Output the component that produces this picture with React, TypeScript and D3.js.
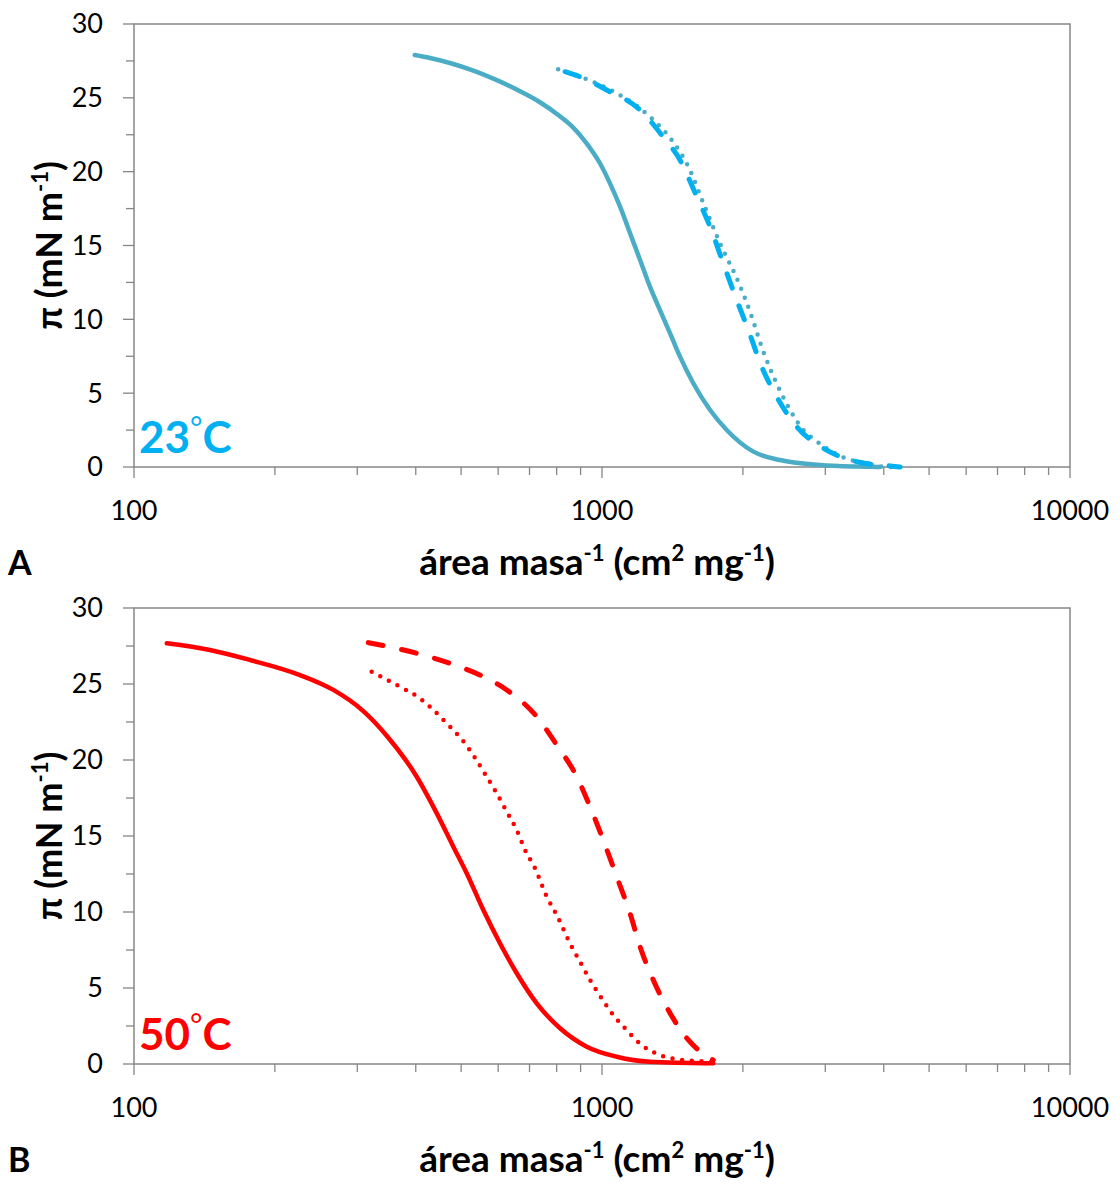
import React from "react";
import * as d3 from "d3";

// ---------- data (area per mass in cm2/mg, surface pressure in mN/m) ----------
// Panel A (23 °C)
const areaA_solid = [398, 429, 473, 531, 596, 668, 737, 813, 867, 927, 990, 1040, 1093, 1148, 1206, 1266, 1330, 1398, 1468, 1567, 1702, 1847, 2106, 2401, 2923, 3502, 3926];
const piA_solid = [27.9, 27.7, 27.36, 26.85, 26.2, 25.45, 24.7, 23.75, 23.0, 21.92, 20.57, 19.21, 17.63, 15.83, 14.02, 12.21, 10.63, 9.05, 7.47, 5.67, 3.86, 2.51, 1.04, 0.47, 0.14, 0.03, 0.0];

const areaA_dash = [834, 897, 1023, 1206, 1350, 1468, 1594, 1702, 1816, 1940, 2054, 2194, 2362, 2606, 2971, 3502, 4126, 4335];
const piA_dash = [26.77, 26.43, 25.53, 24.18, 22.37, 20.79, 18.31, 16.27, 13.79, 11.31, 9.28, 6.79, 4.76, 2.73, 1.27, 0.36, 0.07, 0.0];

const areaA_dot = [806, 935, 1075, 1266, 1409, 1529, 1647, 1787, 1955, 2071, 2212, 2343, 2501, 2692, 2851, 3253, 3738, 3991, 4335];
const piA_dot = [26.93, 26.21, 25.31, 23.72, 22.14, 20.34, 17.86, 15.15, 12.55, 10.52, 7.81, 5.89, 4.08, 2.51, 1.83, 0.7, 0.2, 0.02, 0.0];

// Panel B (50 °C)
const areaB_solid = [117.5, 145.3, 177, 226.3, 266.6, 309, 346.7, 401.9, 443.6, 481.2, 513.9, 557.8, 605.3, 657.4, 725.3, 813.5, 927.5, 1075, 1266, 1729];
const piB_solid = [27.68, 27.24, 26.58, 25.59, 24.61, 23.22, 21.6, 18.9, 16.49, 14.3, 12.55, 10.13, 7.94, 5.97, 3.99, 2.35, 1.14, 0.48, 0.15, 0.05];

const areaB_dot = [322, 370.2, 405.1, 436.2, 469.5, 502.8, 533.5, 564.3, 595.7, 625.8, 657.4, 684.8, 719.2, 761.9, 800.4, 854.3, 897.4, 942.7, 998.5, 1057, 1120, 1216, 1330, 1444, 1729];
const piB_dot = [25.81, 24.82, 24.13, 23.29, 22.3, 21.32, 20.22, 19.01, 17.81, 16.6, 15.39, 14.08, 12.88, 11.01, 9.8, 7.94, 6.73, 5.53, 4.32, 3.22, 2.35, 1.25, 0.59, 0.31, 0.15];

const areaB_dash = [316.7, 401.9, 473.4, 557.8, 625.8, 725.3, 800.4, 883.3, 942.7, 1006, 1075, 1148, 1206, 1287, 1398, 1529, 1729];
const piB_dash = [27.72, 27.02, 26.36, 25.48, 24.61, 22.85, 20.99, 18.9, 16.93, 14.74, 12.32, 9.91, 7.72, 5.53, 3.34, 1.58, 0.26];

// ticks
const xMajorTicks = [100, 1000, 10000];
const xMinorTicks = [200, 300, 400, 500, 600, 700, 800, 900, 2000, 3000, 4000, 5000, 6000, 7000, 8000, 9000];
const yMajorTicks = [0, 5, 10, 15, 20, 25, 30];
const yMinorTicks = [2.5, 7.5, 12.5, 17.5, 22.5, 27.5];

const BLUE_SOLID = "#4BACC6";
const BLUE_DASH = "#00B0F0";
const RED = "#FF0000";
const AXIS = "#868686";
const FONT = "Lato, 'Open Sans', sans-serif";

type Series = { x: number[]; y: number[]; color: string; dash?: string; width: number };

function Panel({ top, bottom, series, tempLabel, tempColor, panelLetter }: {
  top: number; bottom: number; series: Series[]; tempLabel: string; tempColor: string; panelLetter: string;
}) {
  const left = 134, right = 1070;
  const x = d3.scaleLog().domain([100, 10000]).range([left, right]);
  const y = d3.scaleLinear().domain([0, 30]).range([bottom, top]);
  const line = d3.line<[number, number]>().x(d => x(d[0])).y(d => y(d[1])).curve(d3.curveMonotoneX);
  const midY = (top + bottom) / 2;
  return (
    <g>
      <rect x={left} y={top} width={right - left} height={bottom - top} fill="none" stroke={AXIS} strokeWidth={1.5} />
      {yMajorTicks.map(t => (
        <g key={"ym" + t}>
          <line x1={left - 11} x2={left} y1={y(t)} y2={y(t)} stroke={AXIS} strokeWidth={1.3} />
          <text x={103} y={y(t)} dy="0.35em" textAnchor="end" fontFamily={FONT} fontSize={27} fill="#000">{t}</text>
        </g>
      ))}
      {yMinorTicks.map(t => (
        <line key={"yn" + t} x1={left - 8} x2={left} y1={y(t)} y2={y(t)} stroke={AXIS} strokeWidth={1.3} />
      ))}
      {xMajorTicks.map(t => (
        <g key={"xm" + t}>
          <line x1={x(t)} x2={x(t)} y1={bottom} y2={bottom + 11} stroke={AXIS} strokeWidth={1.3} />
          <text x={x(t)} y={bottom + 53} textAnchor="middle" fontFamily={FONT} fontSize={27} fill="#000">{t}</text>
        </g>
      ))}
      {xMinorTicks.map(t => (
        <line key={"xn" + t} x1={x(t)} x2={x(t)} y1={bottom} y2={bottom + 8} stroke={AXIS} strokeWidth={1.3} />
      ))}
      {series.map((s, i) => (
        <path key={i} d={line(s.x.map((v, j) => [v, s.y[j]] as [number, number])) || ""}
          fill="none" stroke={s.color} strokeWidth={s.width} strokeDasharray={s.dash}
          strokeLinecap="round" strokeLinejoin="round" />
      ))}
      <text x={139} y={bottom - 14} fontFamily={FONT} fontWeight="bold" fontSize={44} fill={tempColor}>
        {tempLabel}<tspan fontWeight="normal" fontSize={30} dy={-14}>°</tspan><tspan dy={14}>C</tspan>
      </text>
      <text transform={`translate(62,${midY}) rotate(-90)`} textAnchor="middle" fontFamily={FONT} fontWeight="bold" fontSize={36} fill="#000">
        π (mN m<tspan fontSize={22} dy={-14}>-1</tspan><tspan dy={14}>)</tspan>
      </text>
      <text x={597} y={bottom + 108} textAnchor="middle" fontFamily={FONT} fontWeight="bold" fontSize={37} fill="#000">
        área masa<tspan fontSize={22} dy={-14}>-1</tspan><tspan dy={14}> (cm</tspan><tspan fontSize={22} dy={-14}>2</tspan><tspan dy={14}> mg</tspan><tspan fontSize={22} dy={-14}>-1</tspan><tspan dy={14}>)</tspan>
      </text>
      <text x={8} y={bottom + 108} fontFamily={FONT} fontWeight="bold" fontSize={34} fill="#000">{panelLetter}</text>
    </g>
  );
}

export default function App() {
  const seriesA: Series[] = [
    { x: areaA_solid, y: piA_solid, color: BLUE_SOLID, width: 4.5 },
    { x: areaA_dot, y: piA_dot, color: BLUE_SOLID, width: 4.5, dash: "0 9.7" },
    { x: areaA_dash, y: piA_dash, color: BLUE_DASH, width: 5, dash: "15 19" },
  ];
  const seriesB: Series[] = [
    { x: areaB_solid, y: piB_solid, color: RED, width: 4.5 },
    { x: areaB_dot, y: piB_dot, color: RED, width: 4.5, dash: "0 9.7" },
    { x: areaB_dash, y: piB_dash, color: RED, width: 5, dash: "15 19" },
  ];
  return (
    <svg width={1120} height={1184} style={{ position: "absolute", left: 0, top: 0, background: "#fff" }}>
      <rect x={0} y={0} width={1120} height={1184} fill="#fff" />
      <Panel top={24} bottom={467} series={seriesA} tempLabel="23" tempColor={BLUE_DASH} panelLetter="A" />
      <Panel top={608} bottom={1064} series={seriesB} tempLabel="50" tempColor={RED} panelLetter="B" />
    </svg>
  );
}
